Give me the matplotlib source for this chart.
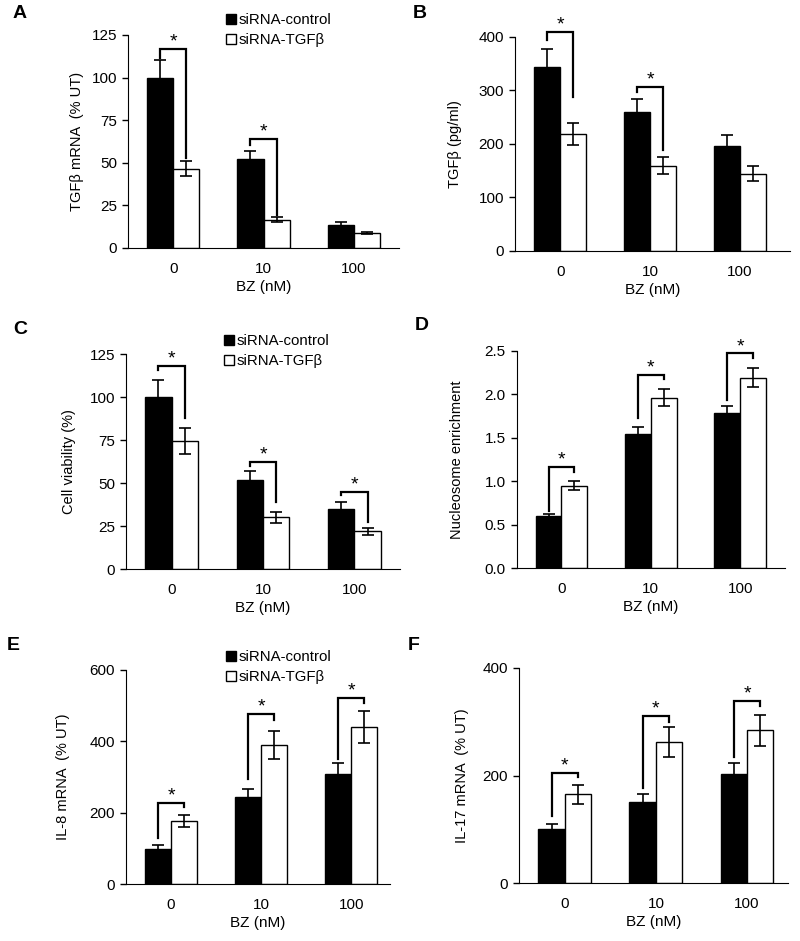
import numpy as np
import matplotlib
matplotlib.use('Agg')
import matplotlib.pyplot as plt
from matplotlib.lines import Line2D

plt.rcParams['font.family'] = ['Liberation Sans', 'DejaVu Sans']

# Dados por painel
doses = ['0', '10', '100']

a_ctrl = [100, 52, 13.5]
a_ctrl_err = [10, 5, 1.5]
a_tgf = [46.5, 16.5, 9]
a_tgf_err = [4.5, 1.5, 0.6]
a_sig = [(0, 117, 111.5, 53), (1, 64, 60.5, 19.5)]

b_ctrl = [343, 259, 196]
b_ctrl_err = [34, 26, 20]
b_tgf = [219, 159, 144]
b_tgf_err = [21, 16, 14]
b_sig = [(0, 409, 394, 288), (1, 306, 298, 189)]

c_ctrl = [100, 51.5, 35]
c_ctrl_err = [10, 5.5, 4]
c_tgf = [74.5, 30, 22]
c_tgf_err = [7.5, 3, 2]
c_sig = [(0, 118, 115.5, 88), (1, 62.5, 60, 39), (2, 45, 43, 27.5)]

d_ctrl = [0.60, 1.54, 1.78]
d_ctrl_err = [0.03, 0.08, 0.09]
d_tgf = [0.95, 1.96, 2.19]
d_tgf_err = [0.05, 0.10, 0.11]
d_sig = [(0, 1.17, 0.66, 1.11), (1, 2.22, 1.73, 2.18), (2, 2.47, 1.93, 2.42)]

e_ctrl = [100, 243, 309]
e_ctrl_err = [9, 25, 31]
e_tgf = [178, 390, 441]
e_tgf_err = [17, 38, 45]
e_sig = [(0, 228, 129, 216), (1, 476, 294, 460), (2, 521, 350, 507)]

f_ctrl = [100, 151, 203]
f_ctrl_err = [10, 15, 21]
f_tgf = [165, 262, 284]
f_tgf_err = [18, 28, 29]
f_sig = [(0, 204, 124, 198), (1, 311, 176, 300), (2, 338, 235, 329)]

W = 0.29  # largura das barras


def painel(fig, rect, ctrl, ctrl_err, tgf, tgf_err, sig, ylim, yticks, ylabel,
           label_x, xmax=2.5, yfmt=None):
    ax = fig.add_axes(rect)
    x = np.arange(len(doses))
    ax.bar(x - W / 2, ctrl, W, color='black', edgecolor='black', linewidth=1)
    ax.bar(x + W / 2, tgf, W, color='white', edgecolor='black', linewidth=1)
    ax.errorbar(x - W / 2, ctrl, yerr=ctrl_err, fmt='none', ecolor='black',
                elinewidth=1.2, capsize=4, capthick=1.2)
    ax.errorbar(x + W / 2, tgf, yerr=tgf_err, fmt='none', ecolor='black',
                elinewidth=1.2, capsize=4, capthick=1.2)

    # colchetes de significância
    for g, top, yl, yr in sig:
        x1, x2 = g - W / 2, g + W / 2
        ax.plot([x1, x1, x2, x2], [yl, top, top, yr], color='black', lw=1.6,
                solid_joinstyle='miter', clip_on=False)
        ax.annotate('*', ((x1 + x2) / 2, top), xytext=(0, 5),
                    textcoords='offset points', ha='center', va='center',
                    fontsize=14, annotation_clip=False)

    ax.set_xlim(-0.5, xmax)
    ax.set_ylim(*ylim)
    ax.set_yticks(yticks)
    if yfmt:
        ax.set_yticklabels([yfmt.format(v) for v in yticks])
    ax.set_xticks(x)
    ax.set_xticklabels(doses)
    ax.spines['top'].set_visible(False)
    ax.spines['right'].set_visible(False)
    ax.tick_params(axis='y', direction='out', length=4, width=1, pad=4,
                   labelsize=11)
    ax.tick_params(axis='x', length=0, pad=10, labelsize=11)
    ax.set_xlabel('BZ (nM)', fontsize=11, labelpad=3)
    ax.set_ylabel(ylabel, fontsize=10.5)
    # posição do rótulo y em pixels da figura (centro do texto)
    yc = rect[1] + rect[3] / 2
    ax.yaxis.set_label_coords((label_x + 7) / 800, yc, transform=fig.transFigure)
    return ax


def legenda(fig, x, y):
    handles = [
        Line2D([], [], marker='s', linestyle='none', markersize=7,
               markerfacecolor='black', markeredgecolor='black'),
        Line2D([], [], marker='s', linestyle='none', markersize=7,
               markerfacecolor='white', markeredgecolor='black'),
    ]
    fig.legend(handles, ['siRNA-control', 'siRNA-TGFβ'], loc='upper left',
               bbox_to_anchor=(x, y), frameon=False, fontsize=10.8,
               handlelength=0.6, handletextpad=0.2, labelspacing=0.4,
               borderpad=0, borderaxespad=0)


fig = plt.figure(figsize=(8, 9.41), dpi=100)

painel(fig, [0.160, 0.7365, 0.339, 0.2264], a_ctrl, a_ctrl_err, a_tgf, a_tgf_err,
       a_sig, (0, 125), [0, 25, 50, 75, 100, 125], 'TGFβ mRNA  (% UT)', 77)
painel(fig, [0.644, 0.7333, 0.344, 0.2274], b_ctrl, b_ctrl_err, b_tgf, b_tgf_err,
       b_sig, (0, 400), [0, 100, 200, 300, 400], 'TGFβ (pg/ml)', 455, xmax=2.56)
painel(fig, [0.1575, 0.3953, 0.3425, 0.2285], c_ctrl, c_ctrl_err, c_tgf, c_tgf_err,
       c_sig, (0, 125), [0, 25, 50, 75, 100, 125], 'Cell viability (%)', 69)
painel(fig, [0.646, 0.396, 0.335, 0.2312], d_ctrl, d_ctrl_err, d_tgf, d_tgf_err,
       d_sig, (0, 2.5), [0, 0.5, 1.0, 1.5, 2.0, 2.5], 'Nucleosome enrichment', 457,
       yfmt='{:.1f}')
painel(fig, [0.1575, 0.0603, 0.33, 0.2277], e_ctrl, e_ctrl_err, e_tgf, e_tgf_err,
       e_sig, (0, 600), [0, 200, 400, 600], 'IL-8 mRNA  (% UT)', 63, xmax=2.43)
painel(fig, [0.649, 0.0613, 0.336, 0.2291], f_ctrl, f_ctrl_err, f_tgf, f_tgf_err,
       f_sig, (0, 400), [0, 200, 400], 'IL-17 mRNA  (% UT)', 462, xmax=2.45)

legenda(fig, 0.283, 1 - 13 / 941)
legenda(fig, 0.281, 1 - 334 / 941)
legenda(fig, 0.283, 1 - 650 / 941)

# letras dos painéis
for letra, px, py in [('A', 13, 13), ('B', 413, 13), ('C', 13, 329),
                      ('D', 415, 325), ('E', 7, 645), ('F', 408, 645)]:
    fig.text(px / 800, 1 - py / 941, letra, fontsize=14, fontweight='bold',
             ha='left', va='center')

fig.savefig('out.png', dpi=100)
plt.close(fig)
